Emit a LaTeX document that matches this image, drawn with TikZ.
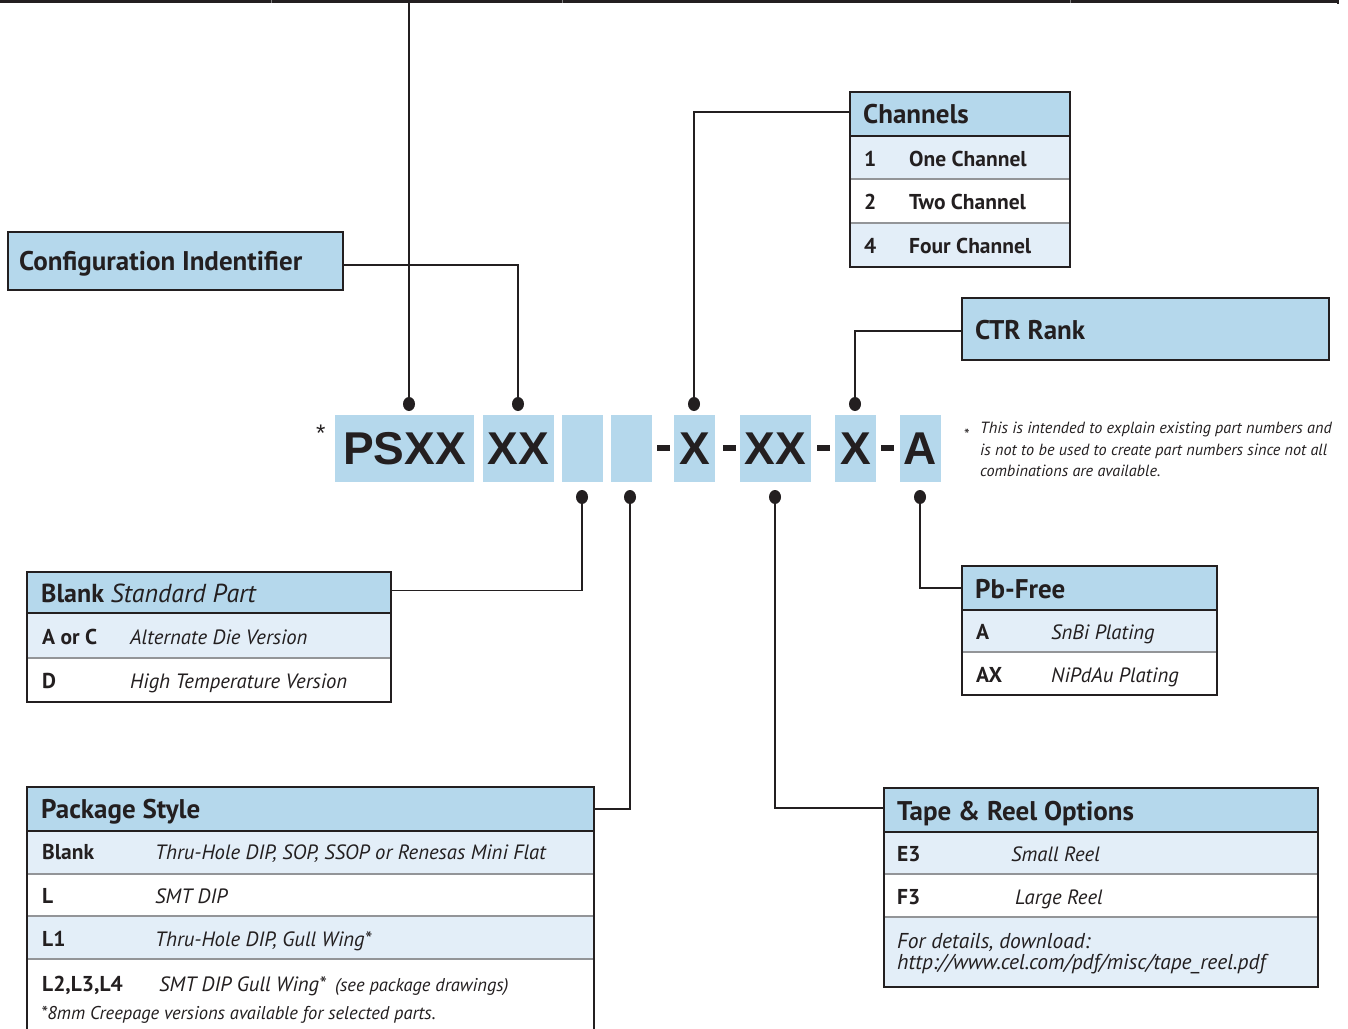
\documentclass[tikz,border=0pt]{standalone}
\usepackage{fontspec}
\setmainfont{PT Sans}
\newfontfamily\pnfont{Liberation Sans}
\usetikzlibrary{shapes.geometric}
\definecolor{hdrblue}{HTML}{B5D8EC}
\definecolor{rowblue}{HTML}{E3EEF8}
\definecolor{edge}{HTML}{231F20}
\definecolor{sepgray}{HTML}{939598}
\tikzset{
  cell/.style={draw=none, inner sep=0pt, outer sep=0pt, anchor=north west},
  hdrcell/.style={cell, fill=hdrblue},
  lightcell/.style={cell, fill=rowblue},
  whitecell/.style={cell, fill=white},
  boxed/.style={cell, fill=hdrblue, draw=edge, line width=2.5pt},
  border/.style={draw=edge, line width=2.5pt},
  sepline/.style={draw=sepgray, line width=2pt},
  conn/.style={draw=edge, line width=1.2pt},
  dotnode/.style={shape=ellipse, fill=edge, draw=none, minimum width=12pt, minimum height=14pt, inner sep=0pt},
  pnbox/.style={fill=hdrblue, draw=none, inner sep=0pt, outer sep=0pt, anchor=north west, minimum height=67pt, text=edge,
     font=\pnfont\fontsize{46}{50}\selectfont\bfseries, text depth=0pt},
  dashbar/.style={fill=edge, draw=none, inner sep=0pt, anchor=north west, minimum width=13pt, minimum height=6pt},
  txt/.style={anchor=base west, inner sep=0pt, text=edge},
  hdrtxt/.style={txt, font=\fontsize{27}{32}\selectfont\bfseries},
  rowbold/.style={txt, font=\fontsize{21.5}{25}\selectfont\bfseries},
  rowit/.style={txt, font=\fontsize{20.7}{25}\selectfont\itshape},
  notetxt/.style={txt, font=\fontsize{16.2}{19}\selectfont\itshape},
}
\begin{document}
\begin{tikzpicture}[x=1pt,y=-1pt]
\useasboundingbox (0,0) rectangle (1348,1028);

% top cropped table edge
\draw[edge, line width=3pt] (0,1.5) -- (1338,1.5);
\draw[edge, line width=1.5pt] (1338,0) -- (1338,4);
\foreach \tx in {271,562,1070} \draw[gray, line width=0.8pt] (\tx,0) -- (\tx,3);
\coordinate (top1) at (409,3);

% ---------- part number ----------
\node[pnbox, minimum width=139pt] (pn1) at (335,415) {PSXX};
\node[pnbox, minimum width=71pt] (pn2) at (483,415) {XX};
\node[pnbox, minimum width=41pt] (pn3) at (562,415) {};
\node[pnbox, minimum width=41pt] (pn4) at (611,415) {};
\node[pnbox, minimum width=41pt] (pn5) at (674,415) {X};
\node[pnbox, minimum width=71pt] (pn6) at (740,415) {XX};
\node[pnbox, minimum width=41pt] (pn7) at (835,415) {X};
\node[pnbox, minimum width=41pt] (pn8) at (900,415) {A};
\node[dashbar] (m1) at (657,445) {};
\node[dashbar] (m2) at (723,445) {};
\node[dashbar] (m3) at (817,445) {};
\node[dashbar] (m4) at (881,445) {};
\node[txt, font=\pnfont\fontsize{24}{26}\selectfont] (star1) at (316,441) {*};

% ---------- Configuration Indentifier ----------
\node[boxed, minimum width=335pt, minimum height=58pt] (cfg) at (8,232) {};
\node[hdrtxt] (cfgT) at (19,270) {Configuration Indentifier};

% ---------- Channels ----------
\node[hdrcell, minimum width=220pt, minimum height=44pt] (chanH) at (850,92) {};
\node[lightcell, minimum width=220pt, minimum height=43pt] (chan1) at (850,136) {};
\node[whitecell, minimum width=220pt, minimum height=44pt] (chan2) at (850,179) {};
\node[lightcell, minimum width=220pt, minimum height=44pt] (chan3) at (850,223) {};
\draw[sepline] (chan1.south west) -- (chan1.south east);
\draw[sepline] (chan2.south west) -- (chan2.south east);
\draw[border] (chanH.south west) -- (chanH.south east);
\draw[border] (chanH.north west) rectangle (chan3.south east);
\node[hdrtxt] (chanT) at (863,123) {Channels};
\node[rowbold] (c1a) at (864,166) {1};
\node[rowbold] (c1b) at (909,166) {One Channel};
\node[rowbold] (c2a) at (864,209) {2};
\node[rowbold] (c2b) at (909,209) {Two Channel};
\node[rowbold] (c3a) at (864,253) {4};
\node[rowbold] (c3b) at (909,253) {Four Channel};

% ---------- CTR Rank ----------
\node[boxed, minimum width=367pt, minimum height=62pt] (ctr) at (962,298) {};
\node[hdrtxt] (ctrT) at (975,339) {CTR Rank};

% ---------- footnote ----------
\node[txt, font=\fontsize{16}{18}\selectfont] (star2) at (964,440) {*};
\node[notetxt] (n1) at (980,433) {This is intended to explain existing part numbers and};
\node[notetxt] (n2) at (980,455) {is not to be used to create part numbers since not all};
\node[notetxt] (n3) at (980,476) {combinations are available.};

% ---------- Blank Standard Part ----------
\node[hdrcell, minimum width=364pt, minimum height=41pt] (blkH) at (27,572) {};
\node[lightcell, minimum width=364pt, minimum height=45pt] (blk1) at (27,613) {};
\node[whitecell, minimum width=364pt, minimum height=44pt] (blk2) at (27,658) {};
\draw[sepline] (blk1.south west) -- (blk1.south east);
\draw[border] (blkH.south west) -- (blkH.south east);
\draw[border] (blkH.north west) rectangle (blk2.south east);
\node[hdrtxt, font=\fontsize{26}{30}\selectfont\bfseries] (blkT) at (41,602) {Blank \mdseries\itshape Standard Part};
\node[rowbold] (b1a) at (42,644) {A or C};
\node[rowit] (b1b) at (130,644) {Alternate Die Version};
\node[rowbold] (b2a) at (42,688) {D};
\node[rowit] (b2b) at (130,688) {High Temperature Version};

% ---------- Pb-Free ----------
\node[hdrcell, minimum width=255pt, minimum height=44pt] (pbH) at (962,566) {};
\node[lightcell, minimum width=255pt, minimum height=42pt] (pb1) at (962,610) {};
\node[whitecell, minimum width=255pt, minimum height=43pt] (pb2) at (962,652) {};
\draw[sepline] (pb1.south west) -- (pb1.south east);
\draw[border] (pbH.south west) -- (pbH.south east);
\draw[border] (pbH.north west) rectangle (pb2.south east);
\node[hdrtxt] (pbT) at (975,598) {Pb-Free};
\node[rowbold] (p1a) at (976,639) {A};
\node[rowit] (p1b) at (1051,639) {SnBi Plating};
\node[rowbold] (p2a) at (976,682) {AX};
\node[rowit] (p2b) at (1051,682) {NiPdAu Plating};

% ---------- Package Style ----------
\node[hdrcell, minimum width=567pt, minimum height=44pt] (pkgH) at (27,787) {};
\node[lightcell, minimum width=567pt, minimum height=43pt] (pkg1) at (27,831) {};
\node[whitecell, minimum width=567pt, minimum height=42pt] (pkg2) at (27,874) {};
\node[lightcell, minimum width=567pt, minimum height=43pt] (pkg3) at (27,916) {};
\node[whitecell, minimum width=567pt, minimum height=76pt] (pkg4) at (27,959) {};
\draw[sepline] (pkg1.south west) -- (pkg1.south east);
\draw[sepline] (pkg2.south west) -- (pkg2.south east);
\draw[sepline] (pkg3.south west) -- (pkg3.south east);
\draw[border] (pkgH.south west) -- (pkgH.south east);
\draw[border] (pkg4.south west) -- (pkgH.north west) -- (pkgH.north east) -- (pkg4.south east);
\node[hdrtxt] (pkgT) at (41,818) {Package Style};
\node[rowbold] (k1a) at (42,859) {Blank};
\node[rowit] (k1b) at (155,859) {Thru-Hole DIP, SOP, SSOP or Renesas Mini Flat};
\node[rowbold] (k2a) at (42,903) {L};
\node[rowit] (k2b) at (155,903) {SMT DIP};
\node[rowbold] (k3a) at (42,946) {L1};
\node[rowit] (k3b) at (155,946) {Thru-Hole DIP, Gull Wing*};
\node[rowbold] (k4a) at (42,991) {L2,L3,L4};
\node[rowit] (k4b) at (159,991) {SMT DIP Gull Wing*};
\node[notetxt, font=\fontsize{18.5}{21}\selectfont\itshape] (k4c) at (335,991) {(see package drawings)};
\node[notetxt, font=\fontsize{18.5}{21}\selectfont\itshape] (k5) at (41,1019) {*8mm Creepage versions available for selected parts.};

% ---------- Tape & Reel ----------
\node[hdrcell, minimum width=434pt, minimum height=44pt] (tapH) at (884,788) {};
\node[lightcell, minimum width=434pt, minimum height=42pt] (tap1) at (884,832) {};
\node[whitecell, minimum width=434pt, minimum height=43pt] (tap2) at (884,874) {};
\node[lightcell, minimum width=434pt, minimum height=70pt] (tap3) at (884,917) {};
\draw[sepline] (tap1.south west) -- (tap1.south east);
\draw[sepline] (tap2.south west) -- (tap2.south east);
\draw[border] (tapH.south west) -- (tapH.south east);
\draw[border] (tapH.north west) rectangle (tap3.south east);
\node[hdrtxt] (tapT) at (897,820) {Tape \& Reel Options};
\node[rowbold] (t1a) at (897,861) {E3};
\node[rowit] (t1b) at (1011,861) {Small Reel};
\node[rowbold] (t2a) at (897,904) {F3};
\node[rowit] (t2b) at (1015,904) {Large Reel};
\node[rowit, font=\fontsize{21.5}{25}\selectfont\itshape] (t3a) at (897,948) {For details, download:};
\node[rowit, font=\fontsize{21.5}{25}\selectfont\itshape] (t3b) at (897,969) {http://www.cel.com/pdf/misc/tape\_reel.pdf};

% ---------- dots ----------
\node[dotnode] (d1) at (409,404) {};
\node[dotnode] (d2) at (518,404) {};
\node[dotnode] (d3) at (694,404) {};
\node[dotnode] (d4) at (855,404) {};
\node[dotnode] (d5) at (582,497) {};
\node[dotnode] (d6) at (630,497) {};
\node[dotnode] (d7) at (775,497) {};
\node[dotnode] (d8) at (920,497) {};

% ---------- connectors ----------
\draw[conn] (d1.center) -- (top1);
\draw[conn] ([yshift=-4pt]cfg.east) -| (d2.center);
\draw[conn] (d3.center) |- ([yshift=2pt]chanH.west);
\draw[conn] (d4.center) |- ([yshift=-2pt]ctr.west);
\draw[conn] (d5.center) |- ([yshift=2pt]blkH.east);
\draw[conn] (d6.center) |- (pkgH.east);
\draw[conn] (d7.center) |- ([yshift=2pt]tapH.west);
\draw[conn] (d8.center) |- (pbH.west);
\end{tikzpicture}
\end{document}
